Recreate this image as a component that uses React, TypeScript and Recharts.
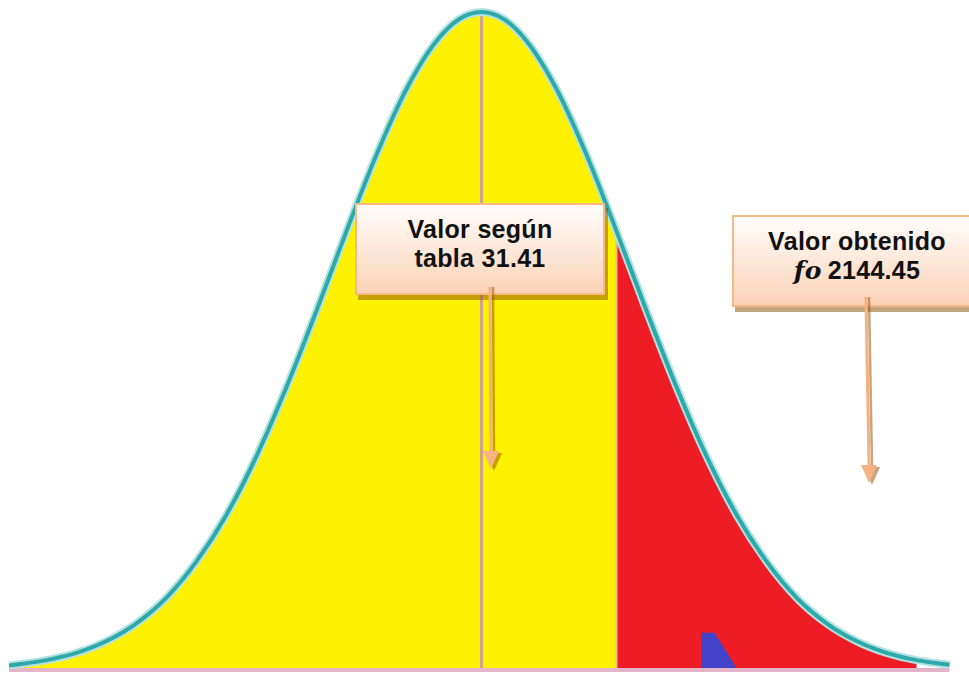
import { ComposedChart, Area, Line, XAxis, YAxis, ReferenceLine } from 'recharts';

// positions along the curve (standard units) and heights
const curveZ = [-3.15, -2.9, -2.7, -2.5, -2.3, -2.1, -1.9, -1.7, -1.5, -1.3, -1.1, -0.9, -0.7, -0.5, -0.3, -0.15, 0, 0.15, 0.3, 0.5, 0.7, 0.9, 1.1, 1.3, 1.5, 1.7, 1.9, 2.1, 2.3, 2.5, 2.7, 2.9, 3.12];
const curveH = [0.007, 0.015, 0.026, 0.044, 0.071, 0.11, 0.165, 0.236, 0.325, 0.43, 0.546, 0.667, 0.783, 0.883, 0.956, 0.989, 1, 0.989, 0.956, 0.883, 0.783, 0.667, 0.546, 0.43, 0.325, 0.236, 0.165, 0.11, 0.071, 0.044, 0.026, 0.015, 0.008];

const cutZ = 0.9; // yellow / red boundary
const redEndZ = 2.9;

// small blue mark near the base
const blueZ = [1.47, 1.47, 1.55, 1.7];
const blueH = [0, 0.055, 0.055, 0];

const callouts = [
  { lines: ['Valor según', 'tabla 31.41'], left: 355, top: 203 },
  { lines: ['Valor obtenido', '2144.45'], left: 732, top: 215, fo: true },
];

const curveData = curveZ.map((x, i) => ({
  x,
  density: curveH[i],
  yellow: x <= cutZ ? curveH[i] : null,
  red: x >= cutZ && x <= redEndZ ? curveH[i] : null,
}));

const blueData = blueZ.map((x, i) => ({ x, blue: blueH[i] }));

const boxStyle = {
  position: 'absolute' as const,
  width: 250,
  height: 92,
  border: '2px solid #f7b88a',
  background: 'linear-gradient(to bottom, #fffdfb 0%, #fde6d6 55%, #fbd2b6 100%)',
  boxShadow: '3px 5px 0 rgba(140, 80, 0, 0.5)',
  fontFamily: '"Liberation Sans", Arial, sans-serif',
  fontWeight: 700,
  fontSize: 25,
  letterSpacing: 0.3,
  lineHeight: '29px',
  color: '#111',
  textAlign: 'center' as const,
  paddingTop: 10,
  boxSizing: 'border-box' as const,
};

function Arrow({ x1, y1, x2, y2 }: { x1: number; y1: number; x2: number; y2: number }) {
  const tip = 18;
  return (
    <g>
      <line x1={x1 + 3} y1={y1} x2={x2 + 3} y2={y2 - tip} stroke="rgba(140,80,0,0.5)" strokeWidth={2.5} />
      <polygon points={`${x2 - 5},${y2 - tip + 2} ${x2 + 11},${y2 - tip + 2} ${x2 + 3},${y2 + 2}`} fill="rgba(140,80,0,0.5)" />
      <line x1={x1} y1={y1} x2={x2} y2={y2 - tip} stroke="#f7b17f" strokeWidth={3} />
      <polygon points={`${x2 - 8},${y2 - tip} ${x2 + 8},${y2 - tip} ${x2},${y2}`} fill="#f7b383" />
    </g>
  );
}

export default function App() {
  return (
    <div style={{ position: 'absolute', left: 0, top: 0, width: 969, height: 673, overflow: 'hidden', background: '#fff' }}>
      <ComposedChart width={969} height={673} data={curveData} margin={{ top: 12, right: 0, left: 0, bottom: 3 }}>
        <XAxis type="number" dataKey="x" domain={[-3.21, 3.25]} hide allowDuplicatedCategory={false} />
        <YAxis type="number" domain={[0, 1]} hide />
        <Area type="monotone" dataKey="yellow" stroke="none" fill="#fff200" fillOpacity={1} isAnimationActive={false} connectNulls={false} />
        <Area type="monotone" dataKey="red" stroke="none" fill="#ee1c25" fillOpacity={1} isAnimationActive={false} connectNulls={false} />
        <ReferenceLine segment={[{ x: cutZ, y: 0 }, { x: cutZ, y: 0.667 }]} stroke="#e6bf7a" strokeWidth={2} />
        <ReferenceLine x={0} stroke="#cfa38e" strokeWidth={3} />
        <ReferenceLine segment={[{ x: -3.15, y: 0 }, { x: 3.12, y: 0 }]} stroke="#e4b4c8" strokeWidth={4} />
        <Area data={blueData} type="linear" dataKey="blue" stroke="#4343c9" strokeWidth={2} fill="#4343c9" fillOpacity={1} isAnimationActive={false} />
        <Line type="monotone" dataKey="density" stroke="#b4e2e2" strokeWidth={8} dot={false} isAnimationActive={false} />
        <Line type="monotone" dataKey="density" stroke="#2ea9a9" strokeWidth={4} dot={false} isAnimationActive={false} />
      </ComposedChart>

      {callouts.map((c, i) => (
        <div key={i} style={{ ...boxStyle, left: c.left, top: c.top }}>
          <div>{c.lines[0]}</div>
          <div>
            {c.fo && (
              <span style={{ fontFamily: '"DejaVu Serif", serif', fontStyle: 'italic', fontWeight: 700, marginRight: 6 }}>fo</span>
            )}
            {c.lines[1]}
          </div>
        </div>
      ))}

      <svg width={969} height={673} style={{ position: 'absolute', left: 0, top: 0, pointerEvents: 'none' }}>
        <Arrow x1={490} y1={287} x2={491} y2={469} />
        <Arrow x1={866} y1={297} x2={869} y2={483} />
      </svg>
    </div>
  );
}
